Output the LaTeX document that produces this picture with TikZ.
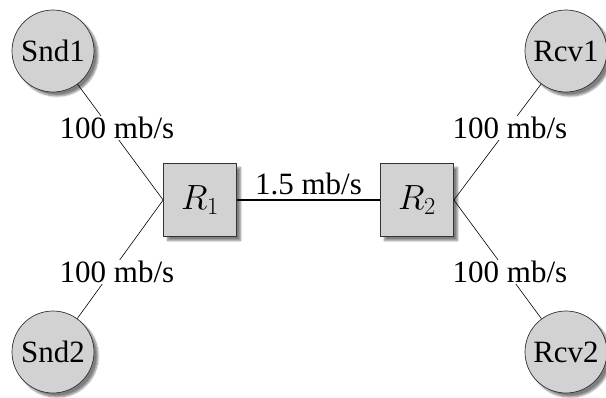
\RequirePackage{fix-cm}
\documentclass[tikz,border=0pt]{standalone}
\usepackage{fontspec}
\setmainfont{Liberation Serif}
\usetikzlibrary{shadows.blur}
\begin{document}
\begin{tikzpicture}[x=1pt,y=-1pt,
  host/.style={circle,draw=black!80,line width=0.7pt,fill=gray!35,minimum size=82pt,inner sep=0pt,
    font=\fontsize{31}{34}\selectfont,
    blur shadow={shadow xshift=4pt,shadow yshift=-4pt,shadow blur steps=8,shadow opacity=50}},
  router/.style={rectangle,draw=black!80,line width=0.7pt,fill=gray!35,minimum size=73pt,inner sep=0pt,
    font=\fontsize{35}{38}\selectfont,
    blur shadow={shadow xshift=4pt,shadow yshift=-4pt,shadow blur steps=8,shadow opacity=50}},
  rate/.style={fill=white,inner sep=1pt,font=\fontsize{31}{34}\selectfont},
  link/.style={line width=0.6pt}]
\useasboundingbox (0,0) rectangle (606,397);
\node[host] (snd1) at (53,51) {Snd1};
\node[host] (snd2) at (53,352) {Snd2};
\node[host] (rcv1) at (566,51) {Rcv1};
\node[host] (rcv2) at (566,352) {Rcv2};
\node[router] (r1) at (200,200) {$R_1$};
\node[router] (r2) at (417,200) {$R_2$};
\draw[link] (snd1) -- (r1.west);
\draw[link] (snd2) -- (r1.west);
\draw[link] (rcv1) -- (r2.east);
\draw[link] (rcv2) -- (r2.east);
\draw[line width=1.3pt] (r1) -- (r2) node[midway,above=1pt,font=\fontsize{31}{34}\selectfont] (bw) {1.5 mb/s};
\node[rate] (l1) at (117,128) {100 mb/s};
\node[rate] (l2) at (117,272) {100 mb/s};
\node[rate] (l3) at (510,128) {100 mb/s};
\node[rate] (l4) at (510,272) {100 mb/s};
\end{tikzpicture}
\end{document}
